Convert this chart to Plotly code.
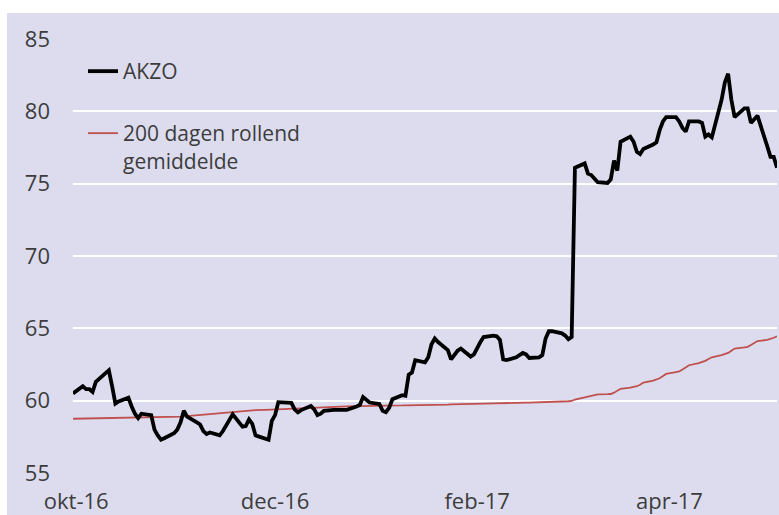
import pandas as pd
import plotly.graph_objects as go

# Trading days (weekdays) from 30-09-2016 to 04-05-2017
dates = pd.bdate_range("2016-09-30", "2017-05-04")

# AKZO closing prices (one value per weekday, grouped by week)
akzo = [
    60.5,                                   # Sep 30
    61.0, 60.8, 60.8, 60.6, 61.3,           # Oct 3-7
    61.9, 62.1, 61.0, 59.8, 59.95,          # Oct 10-14
    60.2, 59.6, 59.1, 58.8, 59.1,           # Oct 17-21
    59.0, 58.0, 57.6, 57.3, 57.4,           # Oct 24-28
    57.75, 58.0, 58.5, 59.3, 58.9,          # Oct 31-Nov 4
    58.5, 58.35, 57.9, 57.7, 57.8,          # Nov 7-11
    57.6, 57.9, 58.25, 58.6, 59.05,         # Nov 14-18
    58.2, 58.25, 58.7, 58.4, 57.6,          # Nov 21-25
    57.4, 57.3, 58.6, 59.0, 59.9,           # Nov 28-Dec 2
    59.88, 59.85, 59.4, 59.2, 59.35,        # Dec 5-9
    59.63, 59.4, 59.0, 59.1, 59.3,          # Dec 12-16
    59.37, 59.37, 59.4, 59.35, 59.37,       # Dec 19-23
    59.6, 59.7, 60.25, 60.05, 59.87,        # Dec 26-30
    59.77, 59.3, 59.2, 59.5, 60.1,          # Jan 2-6
    60.38, 60.34, 61.8, 61.95, 62.8,        # Jan 9-13
    62.65, 63.0, 63.9, 64.3, 64.05,         # Jan 16-20
    63.5, 62.85, 63.2, 63.45, 63.6,         # Jan 23-27
    63.05, 63.2, 63.7, 64.05, 64.4,         # Jan 30-Feb 3
    64.5, 64.45, 64.2, 62.85, 62.8,         # Feb 6-10
    63.0, 63.15, 63.3, 63.2, 62.95,         # Feb 13-17
    63.0, 63.15, 64.3, 64.8, 64.8,          # Feb 20-24
    64.65, 64.5, 64.25, 64.4, 76.1,         # Feb 27-Mar 3
    76.4, 75.7, 75.6, 75.3, 75.1,           # Mar 6-10
    75.05, 75.3, 76.6, 75.9, 77.9,          # Mar 13-17
    78.25, 77.9, 77.2, 77.05, 77.4,         # Mar 20-24
    77.7, 77.85, 78.7, 79.3, 79.6,          # Mar 27-31
    79.6, 79.3, 78.85, 78.6, 79.3,          # Apr 3-7
    79.3, 79.2, 78.25, 78.4, 78.2,          # Apr 10-14
    80.8, 82.0, 82.6, 80.8, 79.6,           # Apr 17-21
    80.2, 80.2, 79.2, 79.45, 79.7,          # Apr 24-28
    77.6, 76.85, 76.85, 76.1,               # May 1-4
]

# 200-day rolling average
ma200 = [
    58.75,
    58.76, 58.76, 58.77, 58.77, 58.78,
    58.78, 58.79, 58.79, 58.80, 58.80,
    58.81, 58.81, 58.82, 58.82, 58.83,
    58.83, 58.84, 58.84, 58.85, 58.85,
    58.87, 58.88, 58.90, 58.92, 58.94,
    58.98, 59.00, 59.02, 59.05, 59.08,
    59.14, 59.17, 59.20, 59.23, 59.25,
    59.28, 59.30, 59.32, 59.33, 59.34,
    59.36, 59.37, 59.38, 59.39, 59.40,
    59.43, 59.45, 59.47, 59.48, 59.50,
    59.52, 59.53, 59.54, 59.55, 59.56,
    59.58, 59.59, 59.60, 59.60, 59.61,
    59.62, 59.62, 59.63, 59.63, 59.64,
    59.65, 59.65, 59.66, 59.66, 59.67,
    59.67, 59.68, 59.68, 59.69, 59.69,
    59.70, 59.70, 59.71, 59.71, 59.72,
    59.73, 59.74, 59.75, 59.76, 59.77,
    59.78, 59.79, 59.79, 59.80, 59.80,
    59.81, 59.82, 59.83, 59.84, 59.84,
    59.85, 59.86, 59.86, 59.87, 59.87,
    59.88, 59.89, 59.90, 59.91, 59.92,
    59.94, 59.95, 59.96, 59.98, 60.08,
    60.22, 60.27, 60.32, 60.38, 60.44,
    60.45, 60.46, 60.55, 60.70, 60.82,
    60.90, 60.94, 61.00, 61.10, 61.25,
    61.38, 61.45, 61.55, 61.70, 61.85,
    61.98, 62.02, 62.15, 62.30, 62.45,
    62.60, 62.65, 62.75, 62.88, 63.00,
    63.15, 63.20, 63.30, 63.45, 63.60,
    63.68, 63.72, 63.85, 64.00, 64.12,
    64.20, 64.25, 64.35, 64.45,
]

x_tick_vals = ["2016-10-01", "2016-12-01", "2017-02-01", "2017-04-01"]
x_tick_text = ["okt-16", "dec-16", "feb-17", "apr-17"]
y_tick_vals = [55, 60, 65, 70, 75, 80, 85]

BG = "#dcdcee"
TXT = "#3c3c3c"
FONT = "Open Sans"

fig = go.Figure()
fig.add_trace(go.Scatter(
    x=dates, y=ma200, mode="lines", name="200 dagen rollend<br>gemiddelde",
    line=dict(color="#c0504d", width=1.8), legend="legend2",
))
fig.add_trace(go.Scatter(
    x=dates, y=akzo, mode="lines", name="AKZO",
    line=dict(color="#000000", width=3.8), legend="legend",
))

W, H = 779, 515
L, R, T, B = 73, 2, 39, 42
pw, ph = W - L - R, H - T - B

def px_x(p):
    return (p - L) / pw

def px_y(q):
    return (H - B - q) / ph

fig.update_layout(
    width=W, height=H,
    margin=dict(l=L, r=R, t=T, b=B, autoexpand=False),
    paper_bgcolor=BG, plot_bgcolor=BG,
    font=dict(family=FONT, size=22, color=TXT),
    showlegend=True,
    legend=dict(x=px_x(83), y=px_y(51), xanchor="left", yanchor="top",
                bgcolor="rgba(0,0,0,0)", font=dict(size=21, color=TXT)),
    legend2=dict(x=px_x(83), y=px_y(113), xanchor="left", yanchor="top",
                 valign="top",
                 bgcolor="rgba(0,0,0,0)", font=dict(size=21, color=TXT)),
    xaxis=dict(
        type="date",
        range=["2016-09-30", "2017-05-04"],
        tickvals=x_tick_vals, ticktext=x_tick_text,
        showgrid=False, zeroline=False, showline=False, ticks="",
        ticklabelstandoff=13, tickfont=dict(size=22), automargin=False,
    ),
    yaxis=dict(
        range=[55, 85], tickvals=y_tick_vals,
        showgrid=True, gridcolor="#ffffff", gridwidth=2,
        zeroline=False, showline=False, ticks="",
        ticklabelstandoff=22, tickfont=dict(size=22), automargin=False,
    ),
    shapes=[
        dict(type="rect", xref="paper", yref="paper",
             x0=px_x(0), x1=px_x(W), y0=px_y(13), y1=px_y(-5),
             fillcolor="#ffffff", line=dict(width=0), layer="above"),
        dict(type="rect", xref="paper", yref="paper",
             x0=px_x(-5), x1=px_x(7), y0=px_y(520), y1=px_y(-5),
             fillcolor="#ffffff", line=dict(width=0), layer="above"),
    ],
    hovermode=False,
)

fig.write_html(
    "out.html",
    config={"displayModeBar": False},
    post_script="document.body.style.margin='0';document.body.style.overflow='hidden';",
)
